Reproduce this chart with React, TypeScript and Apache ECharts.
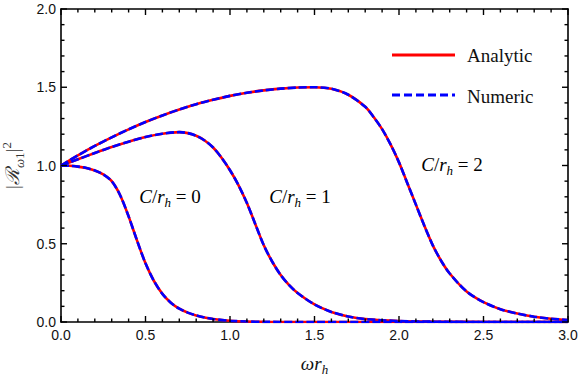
import React, { useEffect, useRef } from "react";
import * as echarts from "echarts";

// omega r_h values and |R|^2 values for each C/r_h
const xC0 = [0, 0.05, 0.1, 0.15, 0.2, 0.25, 0.3, 0.35, 0.4, 0.45, 0.5, 0.55, 0.6, 0.65, 0.7, 0.75, 0.8, 0.85, 0.9, 1.0, 1.1, 1.2, 1.5, 2.0, 2.5, 3.0];
const yC0 = [1, 0.998, 0.993, 0.984, 0.968, 0.943, 0.9, 0.81, 0.675, 0.52, 0.375, 0.262, 0.18, 0.123, 0.085, 0.06, 0.042, 0.029, 0.019, 0.008, 0.003, 0.001, 0, 0, 0, 0];

const xC1 = [0, 0.1, 0.2, 0.3, 0.4, 0.5, 0.6, 0.7, 0.75, 0.8, 0.85, 0.9, 0.95, 1.0, 1.05, 1.1, 1.15, 1.2, 1.25, 1.3, 1.35, 1.4, 1.5, 1.6, 1.7, 1.8, 2.0, 2.2, 2.5, 3.0];
const yC1 = [1, 1.04, 1.08, 1.118, 1.152, 1.182, 1.203, 1.213, 1.207, 1.19, 1.16, 1.115, 1.05, 0.97, 0.875, 0.76, 0.625, 0.49, 0.385, 0.3, 0.235, 0.185, 0.112, 0.064, 0.035, 0.019, 0.006, 0.002, 0, 0];

const xC2 = [0, 0.1, 0.2, 0.3, 0.4, 0.5, 0.6, 0.7, 0.8, 0.9, 1.0, 1.1, 1.2, 1.3, 1.4, 1.5, 1.6, 1.7, 1.8, 1.85, 1.9, 1.95, 2.0, 2.05, 2.1, 2.15, 2.2, 2.25, 2.3, 2.4, 2.5, 2.6, 2.7, 2.8, 2.9, 3.0];
const yC2 = [1, 1.065, 1.125, 1.18, 1.231, 1.278, 1.32, 1.358, 1.392, 1.42, 1.445, 1.465, 1.48, 1.491, 1.498, 1.5, 1.49, 1.452, 1.375, 1.31, 1.232, 1.135, 1.02, 0.885, 0.75, 0.615, 0.49, 0.39, 0.31, 0.195, 0.127, 0.082, 0.054, 0.034, 0.021, 0.013];

const curveLabels = ["0", "1", "2"];
const legendNames = ["Analytic", "Numeric"];

const X_MIN = 0, X_MAX = 3, Y_MIN = 0, Y_MAX = 2, MAJOR = 0.5, MINOR = 0.1;

// plot frame in pixels
const G_LEFT = 61, G_RIGHT = 13, G_TOP = 9, G_BOTTOM = 60, W_PX = 581, H_PX = 382;

const pairs = (xs: number[], ys: number[]) => xs.map((x, i) => [x, ys[i]]);

const SERIF = "'Liberation Serif', 'DejaVu Serif', serif";
const SANS = "'Liberation Sans', Arial, sans-serif";

const makeAxis = (min: number, max: number, position: string, labels: boolean, extra: any = {}) => ({
  type: "value",
  min,
  max,
  interval: MAJOR,
  position,
  axisLine: { show: true, onZero: false, lineStyle: { color: "#000", width: 1.6 } },
  axisTick: { show: false },
  minorTick: { show: false },
  splitLine: { show: false },
  minorSplitLine: { show: false },
  axisLabel: labels
    ? { show: true, formatter: (v: number) => v.toFixed(1), fontSize: 14, color: "#111", fontFamily: SANS }
    : { show: false },
  ...extra,
});

export default function App() {
  const ref = useRef<HTMLDivElement>(null);
  useEffect(() => {
    if (!ref.current) return;
    const chart = echarts.init(ref.current, null, { renderer: "svg" });
    const curves = [pairs(xC0, yC0), pairs(xC1, yC1), pairs(xC2, yC2)];
    const series: any[] = [];
    curves.forEach((d, i) => {
      series.push({
        type: "line",
        name: legendNames[0] + i,
        data: d,
        showSymbol: false,
        smooth: 0.3,
        lineStyle: { color: "#ff0000", width: 2.6 },
        z: 2,
      });
    });
    curves.forEach((d, i) => {
      series.push({
        type: "line",
        name: legendNames[1] + i,
        data: d,
        showSymbol: false,
        smooth: 0.3,
        lineStyle: { color: "#0000ff", width: 2.6, type: [8, 3] },
        z: 3,
      });
    });
    const rich = {
      it: { fontFamily: SERIF, fontStyle: "italic", fontSize: 19, color: "#111", lineHeight: 26, verticalAlign: "middle" },
      n: { fontFamily: SERIF, fontSize: 19, color: "#111", lineHeight: 26, verticalAlign: "middle" },
      s: { fontFamily: SERIF, fontStyle: "italic", fontSize: 13, color: "#111", lineHeight: 13, verticalAlign: "bottom" },
    };
    const annPos = [
      [170, 196],
      [300, 196],
      [452, 164],
    ];
    const xb = makeAxis(X_MIN, X_MAX, "bottom", true, {
      name: "{it|ωr}{s|h}",
      nameLocation: "middle",
      nameGap: 28,
      nameTextStyle: { rich },
    });
    xb.axisLabel.margin = 6;
    const yl = makeAxis(Y_MIN, Y_MAX, "left", true, {
      name: "{n|\u007C}{it|ℛ}{sub|ω}{subn|1}{n||}{sup|2}",
      nameLocation: "middle",
      nameRotate: 90,
      nameGap: 35,
      nameTextStyle: {
        rich: {
          n: { fontFamily: SERIF, fontSize: 19, color: "#333", lineHeight: 26, verticalAlign: "middle" },
          it: { fontFamily: SERIF, fontStyle: "italic", fontSize: 19, color: "#333", lineHeight: 26, verticalAlign: "middle" },
          sub: { fontFamily: SERIF, fontStyle: "italic", fontSize: 13, color: "#333", lineHeight: 13, verticalAlign: "bottom" },
          subn: { fontFamily: SERIF, fontSize: 13, color: "#333", lineHeight: 13, verticalAlign: "bottom" },
          sup: { fontFamily: SERIF, fontSize: 13, color: "#333", lineHeight: 13, verticalAlign: "top" },
        },
      },
    });
    yl.axisLabel.margin = 5;

    // tick marks as small filled rects, inside the frame on all four sides
    const px0 = G_LEFT, px1 = W_PX - G_RIGHT, py0 = H_PX - G_BOTTOM, py1 = G_TOP;
    const toPx = (v: number) => px0 + ((v - X_MIN) / (X_MAX - X_MIN)) * (px1 - px0);
    const toPy = (v: number) => py0 - ((v - Y_MIN) / (Y_MAX - Y_MIN)) * (py0 - py1);
    const TW = 1.4;
    const ticks: any[] = [];
    const tickRect = (x: number, y: number, w: number, h: number) => ({
      type: "rect",
      silent: true,
      z: 100,
      shape: { x, y, width: w, height: h },
      style: { fill: "#000" },
    });
    const nx = Math.round((X_MAX - X_MIN) / MINOR);
    for (let i = 0; i <= nx; i++) {
      const x = toPx(X_MIN + i * MINOR);
      const len = i % 5 === 0 ? 6 : 3.5;
      ticks.push(tickRect(x - TW / 2, py0 - len, TW, len));
      ticks.push(tickRect(x - TW / 2, py1, TW, len));
    }
    const ny = Math.round((Y_MAX - Y_MIN) / MINOR);
    for (let j = 0; j <= ny; j++) {
      const y = toPy(Y_MIN + j * MINOR);
      const len = j % 5 === 0 ? 6 : 3.5;
      ticks.push(tickRect(px0, y - TW / 2, len, TW));
      ticks.push(tickRect(px1 - len, y - TW / 2, len, TW));
    }

    const graphic: any[] = [
      { type: "line", shape: { x1: 392, y1: 55, x2: 455, y2: 55 }, style: { stroke: "#ff0000", lineWidth: 2.8 } },
      { type: "text", x: 467, y: 55, style: { text: legendNames[0], font: `19px ${SERIF}`, fill: "#111", verticalAlign: "middle" } },
      { type: "line", shape: { x1: 392, y1: 95, x2: 455, y2: 95 }, style: { stroke: "#0000ff", lineWidth: 2.8, lineDash: [8, 4] } },
      { type: "text", x: 467, y: 96, style: { text: legendNames[1], font: `19px ${SERIF}`, fill: "#111", verticalAlign: "middle" } },
      ...curveLabels.map((c, i) => ({
        type: "text",
        x: annPos[i][0],
        y: annPos[i][1],
        style: {
          text: `{it|C}{n|/}{it|r}{s|h}{n| = ${c}}`,
          rich,
          align: "center",
          verticalAlign: "middle",
        },
      })),
      ...ticks,
    ];
    chart.setOption({
      animation: false,
      grid: { left: G_LEFT, right: G_RIGHT, top: G_TOP, bottom: G_BOTTOM, containLabel: false, outerBoundsMode: "none" },
      xAxis: [xb, makeAxis(X_MIN, X_MAX, "top", false)],
      yAxis: [yl, makeAxis(Y_MIN, Y_MAX, "right", false)],
      series,
      graphic,
    });
    return () => chart.dispose();
  }, []);
  return <div ref={ref} style={{ position: "fixed", left: 0, top: 0, width: 581, height: 382, background: "#fff" }} />;
}
